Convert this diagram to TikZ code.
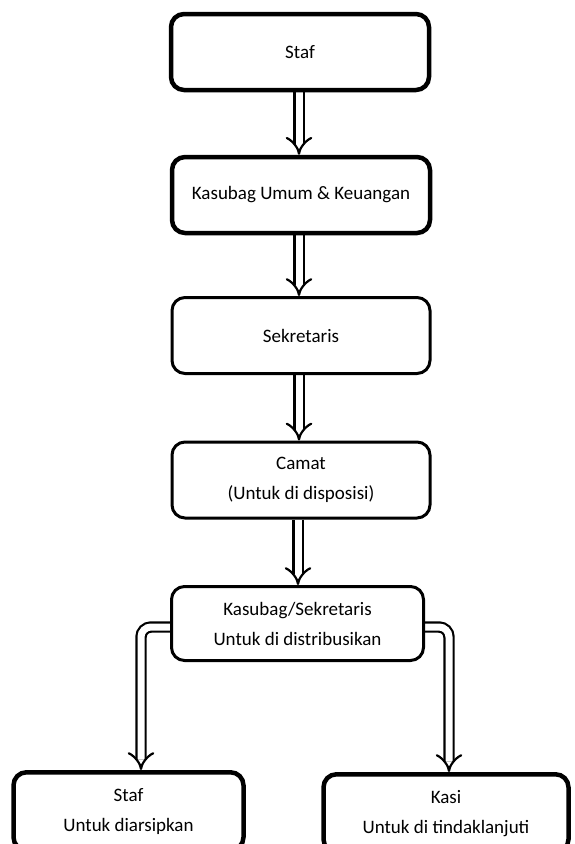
\documentclass[tikz,border=0pt]{standalone}
\usepackage{fontspec}
\setmainfont{Carlito}
\usetikzlibrary{arrows.meta,backgrounds}
\begin{document}
\begin{tikzpicture}[x=1pt,y=-1pt,
  box/.style={draw, fill=white, rounded corners=13pt, line width=3pt, align=center,
    inner sep=0pt, font=\fontsize{19}{30}\selectfont},
  boxthick/.style={box, line width=4.5pt},
  dbl/.style={draw, line width=2.2pt, double=white, double distance=7pt,
    -{Implies[length=11pt, width=24pt]}},
  bent/.style={dbl, rounded corners=10pt}]
\useasboundingbox (0,0) rectangle (574,844);
\node[boxthick, minimum width=258pt, minimum height=76pt] (staf) at (300,52) {Staf};
\node[boxthick, minimum width=258pt, minimum height=76pt] (kas) at (301,195) {Kasubag Umum \& Keuangan};
\node[box, minimum width=258pt, minimum height=76pt] (sek) at (301,335.5) {Sekretaris};
\node[box, minimum width=258pt, minimum height=76pt] (cam) at (301,480) {Camat\\(Untuk di disposisi)};
\node[box, minimum width=252pt, minimum height=74pt] (ks) at (297.5,623.5) {Kasubag/Sekretaris\\Untuk di distribusikan};
\node[boxthick, minimum width=230pt, minimum height=78pt, anchor=north] (bl) at (128.5,770) {Staf\\Untuk diarsipkan};
\node[boxthick, minimum width=245pt, minimum height=78pt, anchor=north] (br) at (446,772) {Kasi\\Untuk di tindaklanjuti};
\begin{scope}[on background layer]
\draw[dbl] (staf.south -| 299,0) -- (kas.north -| 299,0);
\draw[dbl] (kas.south -| 299,0) -- (sek.north -| 299,0);
\draw[dbl] (sek.south -| 299,0) -- (cam.north -| 299,0);
\draw[dbl] (cam.south -| 298,0) -- (ks.north -| 298,0);
\coordinate (lft) at (141,627);
\coordinate (rgt) at (449,627);
\draw[bent] (ks.center |- lft) -| (bl.north -| lft);
\draw[bent] (ks.center |- rgt) -| (br.north -| rgt);
\end{scope}
\end{tikzpicture}
\end{document}
